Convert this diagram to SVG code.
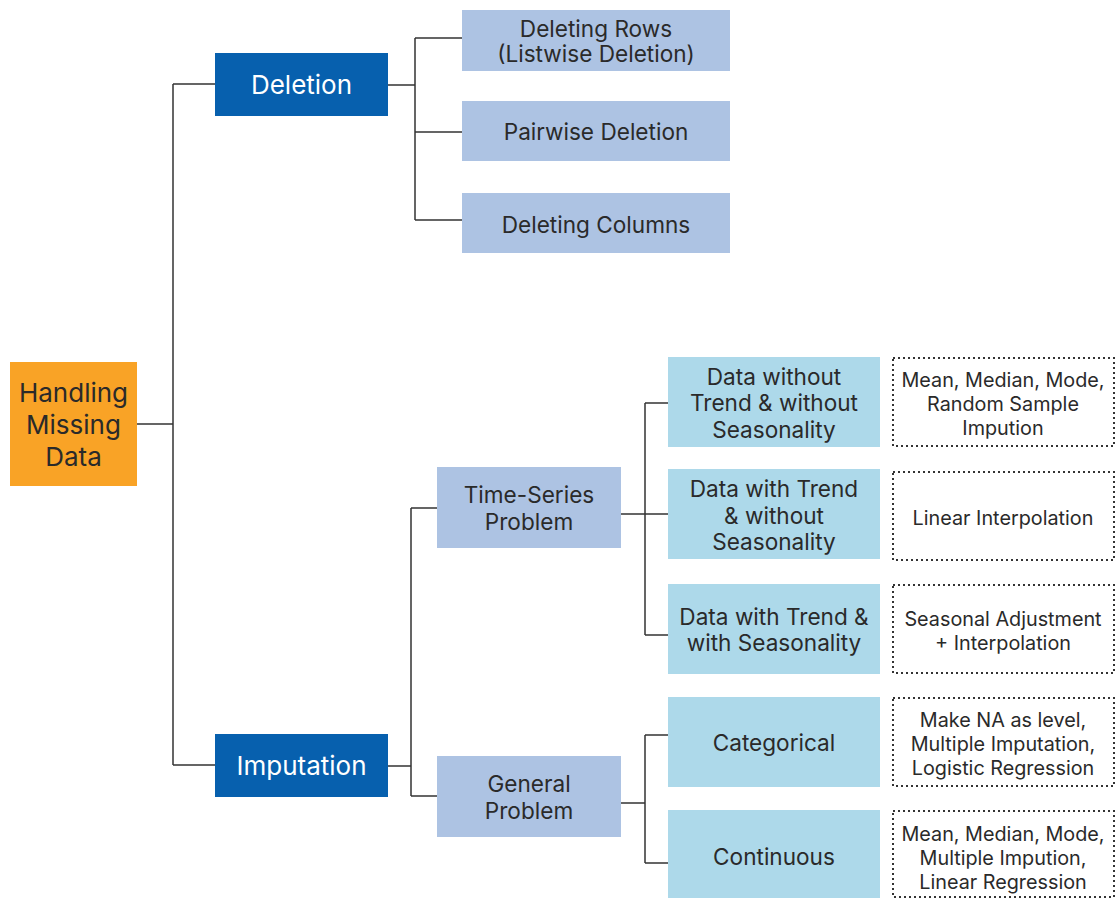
<svg xmlns="http://www.w3.org/2000/svg" width="1117" height="898" viewBox="0 0 1117 898">
<style>
text{font-family:Inter,"Liberation Sans",sans-serif;fill:#2a2a2a;text-anchor:middle}
.t24{font-size:26px}
.t21{font-size:22.6px}
.t19{font-size:19.8px}
.w{fill:#fff}
.root{fill:#F9A326}
.dark{fill:#0760AE}
.mid{fill:#ADC3E3}
.light{fill:#ADD9EA}
.dot{fill:#fff;stroke:#333;stroke-width:2;stroke-dasharray:2 3}
.c{fill:none;stroke:#333;stroke-width:1.5}
</style>
<g id="connectors">
<path class="c" d="M137 424H173M173 84V765M173 84H215M173 765H215"/>
<path class="c" d="M388 85H415M415 38V220M415 38H462M415 132H462M415 220H462"/>
<path class="c" d="M388 766H411M411 508V796M411 508H437M411 796H437"/>
<path class="c" d="M621 514H668M645 403V635M645 403H668M645 635H668"/>
<path class="c" d="M621 803H645M645 735V863M645 735H668M645 863H668"/>
</g>
<g id="root"><rect class="root" x="10" y="362" width="127" height="124"/>
<text class="t24" x="73.5" y="402">Handling</text><text class="t24" x="73.5" y="434">Missing</text><text class="t24" x="73.5" y="466">Data</text></g>
<g id="deletion"><rect class="dark" x="215" y="53" width="173" height="63"/><text class="t24 w" x="301.5" y="94">Deletion</text></g>
<g id="imputation"><rect class="dark" x="215" y="734" width="173" height="63"/><text class="t24 w" x="301.5" y="775">Imputation</text></g>
<g id="rows"><rect class="mid" x="462" y="10" width="268" height="61"/><text class="t21" x="596" y="37">Deleting Rows</text><text class="t21" x="596" y="62">(Listwise Deletion)</text></g>
<g id="pairwise"><rect class="mid" x="462" y="101" width="268" height="60"/><text class="t21" x="596" y="140">Pairwise Deletion</text></g>
<g id="columns"><rect class="mid" x="462" y="193" width="268" height="60"/><text class="t21" x="596" y="233">Deleting Columns</text></g>
<g id="timeseries"><rect class="mid" x="437" y="467" width="184" height="81"/><text class="t21" x="529" y="503">Time-Series</text><text class="t21" x="529" y="530">Problem</text></g>
<g id="general"><rect class="mid" x="437" y="756" width="184" height="81"/><text class="t21" x="529" y="792">General</text><text class="t21" x="529" y="819">Problem</text></g>
<g id="ts1"><rect class="light" x="668" y="357" width="212" height="90"/><text class="t21" x="774" y="385">Data without</text><text class="t21" x="774" y="411">Trend &amp; without</text><text class="t21" x="774" y="438">Seasonality</text></g>
<g id="ts2"><rect class="light" x="668" y="469" width="212" height="90"/><text class="t21" x="774" y="497">Data with Trend</text><text class="t21" x="774" y="524">&amp; without</text><text class="t21" x="774" y="550">Seasonality</text></g>
<g id="ts3"><rect class="light" x="668" y="584" width="212" height="90"/><text class="t21" x="774" y="625">Data with Trend &amp;</text><text class="t21" x="774" y="651">with Seasonality</text></g>
<g id="cat"><rect class="light" x="668" y="697" width="212" height="90"/><text class="t21" x="774" y="751">Categorical</text></g>
<g id="cont"><rect class="light" x="668" y="810" width="212" height="88"/><text class="t21" x="774" y="865">Continuous</text></g>
<g id="m1"><rect class="dot" x="893" y="358" width="221" height="88"/><text class="t19" x="1003" y="387">Mean, Median, Mode,</text><text class="t19" x="1003" y="411">Random Sample</text><text class="t19" x="1003" y="435">Impution</text></g>
<g id="m2"><rect class="dot" x="893" y="472" width="221" height="88"/><text class="t19" x="1003" y="525">Linear Interpolation</text></g>
<g id="m3"><rect class="dot" x="893" y="585" width="221" height="88"/><text class="t19" x="1003" y="626">Seasonal Adjustment</text><text class="t19" x="1003" y="650">+ Interpolation</text></g>
<g id="m4"><rect class="dot" x="893" y="698" width="221" height="88"/><text class="t19" x="1003" y="727">Make NA as level,</text><text class="t19" x="1003" y="751">Multiple Imputation,</text><text class="t19" x="1003" y="775">Logistic Regression</text></g>
<g id="m5"><rect class="dot" x="893" y="811" width="221" height="86"/><text class="t19" x="1003" y="841">Mean, Median, Mode,</text><text class="t19" x="1003" y="865">Multiple Impution,</text><text class="t19" x="1003" y="889">Linear Regression</text></g>
</svg>
